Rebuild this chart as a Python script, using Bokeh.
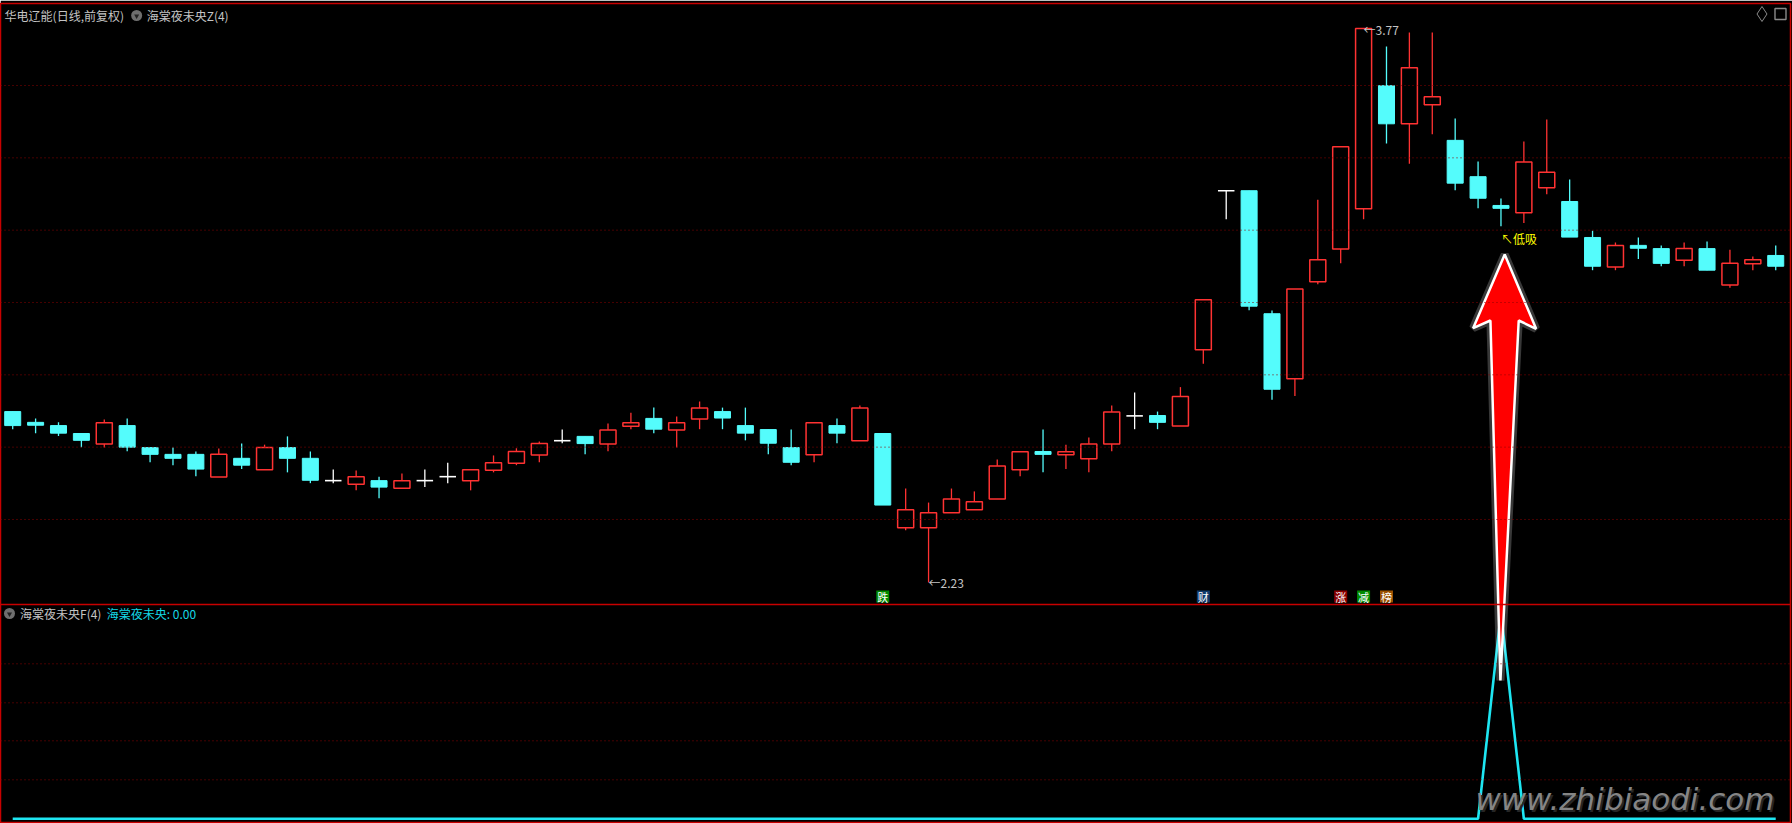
import numpy as np
from bokeh.plotting import figure
from bokeh.models import Range1d, Span, Label
from bokeh.core.properties import value
from bokeh.embed import file_html
from bokeh.resources import INLINE

# ---------------- data ----------------
opens = [2.705, 2.675, 2.666, 2.644, 2.615, 2.666, 2.605, 2.586, 2.586, 2.523,
         2.575, 2.543, 2.605, 2.575, 2.513, 2.503, 2.513, 2.492, 2.513, 2.524,
         2.513, 2.542, 2.561, 2.584, 2.624, 2.636, 2.615, 2.664, 2.686, 2.654,
         2.684, 2.705, 2.666, 2.655, 2.605, 2.585, 2.666, 2.624, 2.644, 2.382,
         2.382, 2.424, 2.432, 2.462, 2.543, 2.594, 2.585, 2.574, 2.615, 2.693,
         2.694, 2.665, 2.877, 3.319, 3.319, 2.977, 2.796, 3.066, 3.157, 3.269,
         3.611, 3.505, 3.558, 3.459, 3.358, 3.278, 3.258, 3.327, 3.289, 3.189,
         3.107, 3.167, 3.158, 3.126, 3.158, 3.057, 3.116, 3.139]
highs = [2.705, 2.686, 2.675, 2.644, 2.683, 2.686, 2.605, 2.605, 2.594, 2.602,
         2.616, 2.613, 2.636, 2.594, 2.544, 2.541, 2.524, 2.533, 2.544, 2.563,
         2.543, 2.583, 2.603, 2.622, 2.655, 2.636, 2.672, 2.702, 2.716, 2.691,
         2.733, 2.716, 2.716, 2.655, 2.655, 2.674, 2.686, 2.722, 2.644, 2.491,
         2.452, 2.491, 2.483, 2.572, 2.593, 2.655, 2.613, 2.633, 2.722, 2.758,
         2.705, 2.773, 3.016, 3.319, 3.319, 2.986, 3.046, 3.294, 3.441, 3.770,
         3.720, 3.759, 3.759, 3.520, 3.400, 3.297, 3.456, 3.517, 3.350, 3.208,
         3.175, 3.189, 3.167, 3.175, 3.178, 3.155, 3.136, 3.167]
lows = [2.656, 2.645, 2.637, 2.606, 2.605, 2.595, 2.564, 2.556, 2.525, 2.523,
        2.545, 2.543, 2.536, 2.506, 2.506, 2.486, 2.464, 2.492, 2.495, 2.506,
        2.486, 2.536, 2.556, 2.564, 2.617, 2.586, 2.595, 2.656, 2.645, 2.605,
        2.656, 2.656, 2.625, 2.586, 2.556, 2.564, 2.617, 2.624, 2.445, 2.375,
        2.230, 2.424, 2.432, 2.462, 2.525, 2.536, 2.545, 2.536, 2.595, 2.656,
        2.656, 2.665, 2.838, 3.240, 2.987, 2.738, 2.748, 3.059, 3.117, 3.240,
        3.450, 3.394, 3.476, 3.320, 3.270, 3.220, 3.229, 3.309, 3.190, 3.098,
        3.098, 3.129, 3.109, 3.109, 3.098, 3.049, 3.098, 3.098]
closes = [2.666, 2.667, 2.645, 2.625, 2.674, 2.606, 2.586, 2.575, 2.545, 2.586,
          2.556, 2.605, 2.575, 2.514, 2.513, 2.524, 2.495, 2.513, 2.513, 2.524,
          2.543, 2.563, 2.594, 2.616, 2.624, 2.616, 2.654, 2.674, 2.656, 2.674,
          2.715, 2.687, 2.645, 2.617, 2.564, 2.674, 2.645, 2.715, 2.445, 2.432,
          2.424, 2.462, 2.454, 2.554, 2.593, 2.586, 2.593, 2.615, 2.704, 2.693,
          2.675, 2.747, 3.016, 3.319, 2.998, 2.767, 3.046, 3.127, 3.441, 3.770,
          3.505, 3.661, 3.580, 3.340, 3.298, 3.270, 3.399, 3.370, 3.190, 3.109,
          3.167, 3.159, 3.117, 3.158, 3.098, 3.117, 3.127, 3.109]
signal = [0, 0, 0, 0, 0, 0, 0, 0, 0, 0,
          0, 0, 0, 0, 0, 0, 0, 0, 0, 0,
          0, 0, 0, 0, 0, 0, 0, 0, 0, 0,
          0, 0, 0, 0, 0, 0, 0, 0, 0, 0,
          0, 0, 0, 0, 0, 0, 0, 0, 0, 0,
          0, 0, 0, 0, 0, 0, 0, 0, 0, 0,
          0, 0, 0, 0, 0, 1, 0, 0, 0, 0,
          0, 0, 0, 0, 0, 0, 0, 0]
marker_idx = [38, 52, 58, 59, 60]
marker_text = ["跌", "财", "涨", "减", "榜"]
marker_bg = ["#008a00", "#103a6b", "#8a0000", "#008a00", "#9a5000"]
title_main = "华电辽能(日线,前复权)"
title_ind_z = "海棠夜未央Z(4)"
title_ind_f = "海棠夜未央F(4)"
ind_name = "海棠夜未央"
signal_label = "↖低吸"
watermark = "www.zhibiaodi.com"

# ---------------- layout helpers (reference pixel -> data) ----------------
X0, DX = 12.7, 22.89
P0, PPX = 3.8478, 1 / 359.7
IND_BASE, IND_PX = 818.3, 206.3


def ix(px):
    return (px - X0) / DX


def py(pyy):
    return P0 - pyy * PPX


RED = "#ff3232"
CYAN = "#54fcfc"
FRAME = "#c80000"
GRID = "#8c0000"
GREY = "#c4c4c4"
CJK = "Noto Sans CJK SC"

p = figure(width=1792, height=823,
           x_range=Range1d(ix(0.5), ix(1790)), y_range=Range1d(py(822), py(3)),
           output_backend="svg", toolbar_location=None,
           x_axis_location=None, y_axis_location=None,
           background_fill_color="black", border_fill_color="black",
           min_border_left=0, min_border_right=2, min_border_top=3, min_border_bottom=1,
           outline_line_color=FRAME, outline_line_width=1.5)
p.grid.visible = False
p.extra_y_ranges = {"ind": Range1d((IND_BASE - 822) / IND_PX, (IND_BASE - 3) / IND_PX)}

# grid lines
for k in range(7):
    p.add_layout(Span(location=py(85 + 72.33 * k), dimension="width",
                      line_color=GRID, line_dash="1 3", line_width=1))
for yy in [663.3, 702.3, 740.3, 779.3]:
    p.add_layout(Span(location=py(yy), dimension="width",
                      line_color=GRID, line_dash="1 3", line_width=1))
p.add_layout(Span(location=py(604), dimension="width", line_color=FRAME, line_width=1.5))

# candles
x = np.arange(len(opens))
o = np.array(opens); h = np.array(highs); l = np.array(lows); c = np.array(closes)
up = c > o
dn = c < o
fl = c == o
wick_col = np.where(up, RED, np.where(dn, CYAN, "#ffffff"))
p.segment(x, h, x, l, color=list(wick_col), line_width=1.3)
p.vbar(x=x[up], width=0.7, top=c[up], bottom=o[up], fill_color="black",
       line_color=RED, line_width=1.5)
p.vbar(x=x[dn], width=0.7, top=o[dn], bottom=c[dn], fill_color=CYAN,
       line_color=CYAN, line_width=1)
p.segment(x[fl] - 0.36, c[fl], x[fl] + 0.36, c[fl], color="#ffffff", line_width=1.6)

# high / low annotations
i_lo = int(np.argmin(l)); i_hi = int(np.argmax(h))
p.add_layout(Label(x=i_lo, y=l[i_lo], text=f"←{l[i_lo]:.2f}", text_color=GREY,
                   text_font=CJK, text_font_size="12px", text_baseline="middle",
                   text_align="left"))
p.add_layout(Label(x=i_hi, y=h[i_hi] - 1 * PPX, text=f"←{h[i_hi]:.2f}", text_color=GREY,
                   text_font=CJK, text_font_size="12px", text_baseline="middle",
                   text_align="left"))

# event markers at the bottom of the price pane
mx = np.array(marker_idx)
p.rect(x=mx, y=[py(596)] * len(mx), width=13 / DX, height=12 * PPX,
       fill_color=marker_bg, line_color=None)
p.text(x=mx, y=[py(596)] * len(mx), text=marker_text, text_color="white",
       text_font=value(CJK), text_font_size="11px", text_align="center",
       text_baseline="middle")

# indicator line
p.line(x, signal, y_range_name="ind", line_color="#1ee6f2", line_width=2.6)

# signal label
i_sig = int(np.argmax(signal))
p.add_layout(Label(x=i_sig, y=l[i_sig] - 12.5 * PPX, text=signal_label,
                   text_color="#ffff00", text_font=CJK, text_font_size="12px",
                   text_baseline="middle", text_align="left"))

# big red arrow overlay pointing at the signal
arrow_px = [(1504.3, 254), (1535.7, 328.3), (1518.3, 320), (1500, 680),
            (1490, 320), (1472.7, 327.7)]
ax_ = [ix(a) for a, _ in arrow_px]
ay_ = [py(b) for _, b in arrow_px]
p.patch(ax_, ay_, fill_alpha=0, line_color="white", line_alpha=0.22, line_width=8)
p.patch(ax_, ay_, fill_color="#ff0000", line_color="white", line_width=2.5)

# watermark
p.add_layout(Label(x=ix(1477), y=py(800), text=watermark, text_color="#262626",
                   text_font="DejaVu Sans", text_font_style="italic",
                   text_font_size="31px", text_align="left", text_baseline="alphabetic"))
p.add_layout(Label(x=ix(1475), y=py(798), text=watermark, text_color="#858585",
                   text_font="DejaVu Sans", text_font_style="italic",
                   text_font_size="31px", text_align="left", text_baseline="alphabetic"))

# headers
p.add_layout(Label(x=ix(4.6), y=py(15), text=title_main, text_color=GREY,
                   text_font=CJK, text_font_size="12px", text_baseline="middle"))
p.scatter([ix(136.6)], [py(15)], marker="circle", size=11, fill_color="#6e6e6e",
          line_color=None)
p.scatter([ix(136.6)], [py(15.5)], marker="inverted_triangle", size=5, fill_color="#222222",
          line_color=None)
p.add_layout(Label(x=ix(146.6), y=py(15), text=title_ind_z, text_color=GREY,
                   text_font=CJK, text_font_size="12px", text_baseline="middle"))

p.scatter([ix(9.5)], [py(613)], marker="circle", size=11, fill_color="#6e6e6e",
          line_color=None)
p.scatter([ix(9.5)], [py(613.5)], marker="inverted_triangle", size=5, fill_color="#222222",
          line_color=None)
p.add_layout(Label(x=ix(20), y=py(613), text=title_ind_f, text_color=GREY,
                   text_font=CJK, text_font_size="12px", text_baseline="middle"))
p.add_layout(Label(x=ix(106.7), y=py(613), text=f"{ind_name}: {signal[-1]:.2f}",
                   text_color="#14d8e6", text_font=CJK, text_font_size="12px",
                   text_baseline="middle"))

# top-right icons
p.scatter([ix(1761.5)], [py(13.5)], marker="diamond", size=15, fill_alpha=0,
          line_color="#8a8a8a", line_width=1)
p.scatter([ix(1780)], [py(13.5)], marker="square", size=11, fill_alpha=0,
          line_color="#8a8a8a", line_width=1.4)

open("out.html", "w").write(file_html(p, INLINE))
